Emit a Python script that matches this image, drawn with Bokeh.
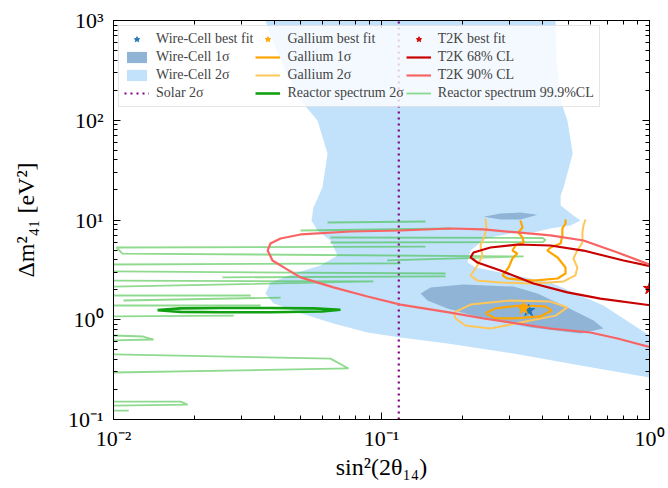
from bokeh.plotting import figure
from bokeh.models import (LogAxis, FixedTicker, CustomJSTickFormatter, Legend, LegendItem,
                          CustomLabelingPolicy)
from bokeh.embed import file_html
from bokeh.resources import INLINE

# ---------------- data ----------------
# Wire-Cell 2 sigma allowed region (outline)
wc2_x = [0.0369, 0.0392, 0.0438, 0.0499, 0.0577, 0.0629, 0.0602, 0.0557, 0.0548, 0.0577,
         0.0645, 0.0686, 0.0592, 0.0486, 0.0385, 0.0369, 0.0395, 0.0499, 0.0662, 0.0887,
         0.1177, 0.1762, 0.311, 0.553, 1.0, 1.0, 0.673, 0.427, 0.278, 0.2244,
         0.2094, 0.2148, 0.2443, 0.303, 0.369, 0.427, 0.507, 0.553, 0.520, 0.466,
         0.466, 0.478, 0.517, 0.494, 0.466, 0.450, 0.446]
wc2_y = [1000, 630, 315, 158, 99.4, 46.4, 21.2, 13.3, 9.88, 7.85,
         6.23, 4.41, 3.50, 2.98, 2.36, 1.83, 1.46, 1.16, 0.917, 0.745,
         0.664, 0.578, 0.459, 0.348, 0.264, 0.695, 1.39, 2.36, 2.98, 3.34,
         3.75, 4.94, 6.53, 7.33, 7.50, 8.22, 8.81, 9.88, 11.1, 13.96,
         17.6, 21.2, 46.4, 99.4, 158, 397, 1000]

# Wire-Cell 1 sigma region (main island and small island)
wc1_main_x = [0.1399, 0.1524, 0.2023, 0.311, 0.382, 0.494, 0.618, 0.673, 0.553, 0.360, 0.234, 0.1762, 0.1485]
wc1_main_y = [1.83, 2.11, 2.26, 2.15, 1.83, 1.33, 0.983, 0.817, 0.728, 0.836, 1.05, 1.30, 1.56]
wc1_isl_x = [0.2405, 0.278, 0.330, 0.382, 0.330, 0.278]
wc1_isl_y = [10.8, 11.6, 11.9, 11.3, 10.1, 10.1]

# Solar 2 sigma bound
solar_x = 0.116
solar_y = [0.1, 1000]

# Reactor spectrum 2 sigma
re2_x = [0.0146, 0.0178, 0.0251, 0.0385, 0.0560, 0.0703, 0.0600, 0.0385, 0.0251, 0.0178, 0.0146]
re2_y = [1.25, 1.30, 1.31, 1.31, 1.30, 1.26, 1.21, 1.19, 1.19, 1.20, 1.25]

# Reactor spectrum 99.9% CL (several contour pieces)
re3_xs = [[0.0629, 0.146], [0.0499, 0.1808],
          [0.0645, 0.40, 0.409, 0.40, 0.0645],
          [0.146, 0.01026, 0.0108, 0.339, 0.105],
          [0.01, 0.1177], [0.01, 0.1734], [0.0255, 0.1734],
          [0.01, 0.0933, 0.01], [0.01, 0.0325], [0.0109, 0.0420],
          [0.01, 0.0354], [0.01, 0.0281],
          [0.01, 0.0129, 0.0141, 0.01],
          [0.01, 0.0645, 0.0753, 0.01],
          [0.01, 0.0178, 0.0189, 0.01], [0.01, 0.0114]]
re3_ys = [[9.44, 9.66], [7.85, 8.22],
          [6.68, 6.6, 6.3, 6.0, 5.95],
          [5.42, 5.30, 4.61, 4.31, 3.93],
          [3.58, 3.67], [3.05, 2.91], [2.66, 2.72],
          [2.47, 2.42, 2.15], [1.75, 1.75], [1.56, 1.67],
          [1.39, 1.39], [1.08, 1.10],
          [0.695, 0.679, 0.634, 0.620],
          [0.449, 0.408, 0.325, 0.296],
          [0.151, 0.151, 0.141, 0.138], [0.123, 0.123]]

# Gallium 1 sigma (upper U-shaped piece and lower closed piece)
ga1_u_x = [0.330, 0.336, 0.324, 0.336, 0.339, 0.316, 0.308, 0.321, 0.308, 0.298, 0.283, 0.295,
           0.369, 0.454, 0.486, 0.486, 0.454, 0.416, 0.427, 0.466, 0.473, 0.473, 0.486, 0.486]
ga1_u_y = [9.88, 8.41, 7.50, 6.68, 5.95, 5.55, 4.94, 4.61, 4.11, 3.34, 2.78, 2.59,
           2.47, 2.59, 2.91, 3.34, 4.21, 4.94, 5.30, 5.81, 7.00, 8.22, 9.22, 10.1]
ga1_e_x = [0.2443, 0.266, 0.330, 0.409, 0.431, 0.392, 0.316, 0.266, 0.2443]
ga1_e_y = [1.16, 1.30, 1.39, 1.36, 1.24, 1.08, 1.03, 1.03, 1.16]

# Gallium 2 sigma
ga2_u_x = [0.2443, 0.2465, 0.2405, 0.234, 0.238, 0.228, 0.2148, 0.228, 0.278, 0.369,
           0.478, 0.529, 0.538, 0.520, 0.538, 0.562, 0.562, 0.567, 0.577]
ga2_u_y = [10.35, 8.22, 6.53, 5.55, 4.41, 3.50, 2.78, 2.47, 2.36, 2.31,
           2.42, 2.78, 3.34, 4.11, 4.94, 5.95, 7.50, 8.81, 10.1]
ga2_e_x = [0.186, 0.2148, 0.303, 0.427, 0.494, 0.446, 0.330, 0.255, 0.2056, 0.189, 0.186]
ga2_e_y = [1.18, 1.42, 1.56, 1.52, 1.33, 1.10, 0.938, 0.817, 0.875, 1.03, 1.18]

# T2K 68% and 90% CL
t2k68_x = [1.02, 0.800, 0.673, 0.567, 0.427, 0.321, 0.255, 0.2205, 0.2148, 0.228, 0.278, 0.369, 0.494, 0.656, 1.02]
t2k68_y = [3.42, 3.93, 4.41, 4.94, 5.55, 5.68, 5.30, 4.72, 4.21, 3.75, 3.12, 2.31, 1.88, 1.63, 1.39]
t2k90_x = [1.02, 0.760, 0.567, 0.427, 0.321, 0.2405, 0.1808, 0.1177, 0.0766, 0.0499,
           0.0420, 0.0385, 0.0376, 0.0392, 0.0438, 0.0499, 0.0662, 0.0887, 0.1177, 0.1808,
           0.2405, 0.321, 0.427, 0.602, 0.760, 1.02]
t2k90_y = [3.50, 4.72, 6.23, 7.00, 7.50, 8.04, 8.22, 7.85, 7.67, 7.16,
           6.53, 5.81, 4.94, 3.93, 3.27, 2.66, 2.11, 1.71, 1.42, 1.18,
           1.03, 0.917, 0.817, 0.745, 0.649, 0.527]

# best fit points
wc_best_x, wc_best_y = [0.354], [1.24]
ga_best_x, ga_best_y = [0.339], [1.30]
t2k_best_x, t2k_best_y = [1.0], [2.06]

# axes
x_major = [0.01, 0.1, 1.0]
y_major = [0.1, 1.0, 10.0, 100.0, 1000.0]

# ---------------- figure ----------------
FONT = "Liberation Serif"

p = figure(x_axis_type="log", y_axis_type="log", x_range=(0.01, 1.0), y_range=(0.1, 1000),
           frame_width=536, frame_height=399, output_backend="svg", toolbar_location=None,
           min_border_left=113, min_border_top=20, min_border_right=19, min_border_bottom=69)
p.background_fill_color = "white"
p.border_fill_color = "white"
p.outline_line_color = "black"
p.outline_line_width = 1
p.xgrid.visible = False
p.ygrid.visible = False


def minors(majors):
    out = []
    for m in majors[:-1]:
        out += [m * k for k in range(2, 10)]
    return out


fmt = CustomJSTickFormatter(code="""
const e = Math.round(Math.log10(tick));
const sup = {'-':'\u207b','0':'\u2070','1':'\u00b9','2':'\u00b2','3':'\u00b3','4':'\u2074',
             '5':'\u2075','6':'\u2076','7':'\u2077','8':'\u2078','9':'\u2079'};
return '10' + String(e).split('').map(c => sup[c]).join('');
""")

no_labels = CustomLabelingPolicy(code="""
for (const i of indices) { indices.unset(i) }
return indices
""")


def style_axis(ax, majors, show_labels=True):
    ax.ticker = FixedTicker(ticks=majors, minor_ticks=minors(majors))
    ax.formatter = fmt
    ax.major_tick_in = 7
    ax.major_tick_out = 0
    ax.minor_tick_in = 4
    ax.minor_tick_out = 0
    ax.axis_line_color = "black"
    ax.major_tick_line_color = "black"
    ax.minor_tick_line_color = "black"
    ax.major_label_text_font = FONT
    ax.major_label_text_font_size = "22px"
    ax.major_label_text_color = "black"
    ax.axis_label_text_font = FONT
    ax.axis_label_text_font_style = "normal"
    ax.axis_label_text_font_size = "24px"
    ax.axis_label_text_color = "black"
    if not show_labels:
        ax.major_label_policy = no_labels
        ax.major_label_text_font_size = "1px"
        ax.major_label_standoff = 0
        ax.axis_label_standoff = 0


style_axis(p.xaxis[0], x_major)
style_axis(p.yaxis[0], y_major)
p.xaxis[0].axis_label = "sin\u00b2(2\u03b8\u2081\u2084)"
p.yaxis[0].axis_label = "\u0394m\u00b2\u2084\u2081 [eV\u00b2]"
p.xaxis[0].major_label_standoff = 6
p.xaxis[0].axis_label_standoff = 0
p.yaxis[0].major_label_standoff = 10
p.yaxis[0].axis_label_standoff = 26

top_ax = LogAxis()
style_axis(top_ax, x_major, show_labels=False)
p.add_layout(top_ax, "above")
right_ax = LogAxis()
style_axis(right_ax, y_major, show_labels=False)
p.add_layout(right_ax, "right")

# ---------------- glyphs ----------------
r_wc2 = p.patch(wc2_x, wc2_y, fill_color="#c1e2fa", line_color=None)
r_wc1 = p.patches([wc1_main_x, wc1_isl_x], [wc1_main_y, wc1_isl_y],
                  fill_color="#8fb4d6", line_color=None)
r_solar = p.line([solar_x, solar_x], solar_y, line_color="#800080", line_width=2.2,
                 line_dash="2 4")
r_re3 = p.multi_line(re3_xs, re3_ys, line_color="#33bb33", line_alpha=0.55, line_width=1.8)
r_re2 = p.line(re2_x, re2_y, line_color="#11a011", line_width=2.6)
r_ga2 = p.multi_line([ga2_u_x, ga2_e_x], [ga2_u_y, ga2_e_y], line_color="#ffc65a", line_width=2)
r_ga1 = p.multi_line([ga1_u_x, ga1_e_x], [ga1_u_y, ga1_e_y], line_color="#ffa500", line_width=2.2)
r_t68 = p.line(t2k68_x, t2k68_y, line_color="#c80000", line_width=2.2)
r_t90 = p.line(t2k90_x, t2k90_y, line_color="#f86464", line_width=2.2)
r_wcb = p.scatter(wc_best_x, wc_best_y, marker="star", size=13, fill_color="#1f77b4", line_color="#1f77b4")
r_gab = p.scatter(ga_best_x, ga_best_y, marker="star", size=13, fill_color="#ffa500", line_color="#ffa500")
r_t2b = p.scatter(t2k_best_x, t2k_best_y, marker="star", size=13, fill_color="#dd0000", line_color="#dd0000")

items = [
    LegendItem(label="Wire-Cell best fit", renderers=[r_wcb]),
    LegendItem(label="Wire-Cell 1\u03c3", renderers=[r_wc1]),
    LegendItem(label="Wire-Cell 2\u03c3", renderers=[r_wc2]),
    LegendItem(label="Solar 2\u03c3", renderers=[r_solar]),
    LegendItem(label="Gallium best fit", renderers=[r_gab]),
    LegendItem(label="Gallium 1\u03c3", renderers=[r_ga1]),
    LegendItem(label="Gallium 2\u03c3", renderers=[r_ga2]),
    LegendItem(label="Reactor spectrum 2\u03c3", renderers=[r_re2]),
    LegendItem(label="T2K best fit", renderers=[r_t2b]),
    LegendItem(label="T2K 68% CL", renderers=[r_t68]),
    LegendItem(label="T2K 90% CL", renderers=[r_t90]),
    LegendItem(label="Reactor spectrum 99.9%CL", renderers=[r_re3]),
]
legend = Legend(items=items, location="top_left", nrows=4, orientation="vertical",
                margin=5, padding=5, spacing=2, label_standoff=7,
                glyph_width=25, glyph_height=14,
                label_text_font=FONT, label_text_font_size="14px",
                label_height=14,
                border_line_color="#cccccc", border_line_width=1,
                background_fill_color="white", background_fill_alpha=0.8)
p.add_layout(legend, "center")

open("out.html", "w").write(file_html(p, INLINE))
